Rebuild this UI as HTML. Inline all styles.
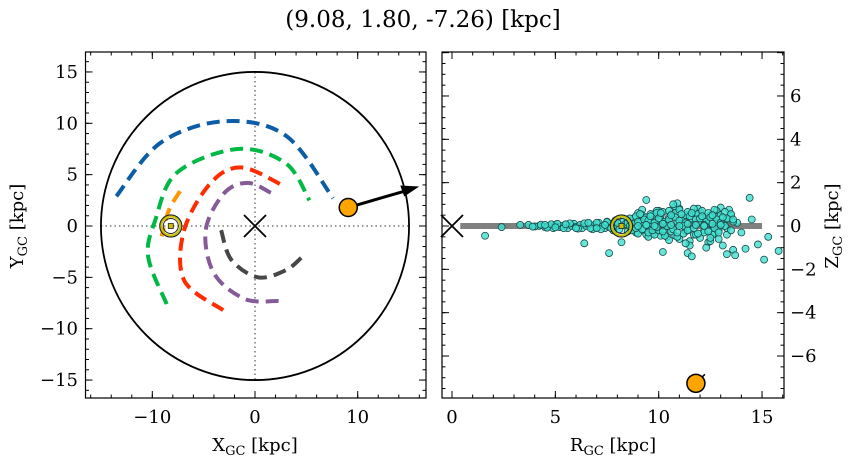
<!DOCTYPE html>
<html><head><meta charset="utf-8">
<style>
html,body{margin:0;padding:0;background:#fff;}
svg{display:block;font-family:"DejaVu Serif","Liberation Serif",serif;}
</style></head>
<body>
<svg id="fig" width="854" height="464" viewBox="0 0 854 464" xmlns="http://www.w3.org/2000/svg">
<text x="423" y="27" font-size="23" text-anchor="middle">(9.08, 1.80, -7.26) [kpc]</text>
<g id="left"></g>
<g id="right"></g>
</svg>
<script>
// ----- data -----
const armBlue = [[-13.5,2.9],[-9.2,8.1],[-3,10.2],[3,8.8],[7.6,2.7]];
const armGreen = [[-8.6,-7.6],[-10.4,-3],[-9.7,0.6],[-7.6,5.2],[-1.7,7.5],[3,6.1],[5.3,2.5]];
const armOrange = [[-7.3,3.4],[-8.4,1.5],[-9.1,-1]];
const armRed = [[-3.1,-8.2],[-6.9,-5.3],[-6.9,-0.4],[-4.3,4.2],[-1.3,5.7],[2.8,3.9]];
const armPurple = [[2.3,-7.3],[-1,-7.1],[-4,-4.6],[-4.8,-0.4],[-3,3.2],[-0.7,4.2],[1.6,3.2]];
const armGrey = [[-3.3,-0.4],[-2.3,-3.3],[0.3,-5],[3,-4.3],[4.6,-3]];
const targetXYZ = [9.08, 1.80, -7.26];
const targetR = 11.8;
const sunX = -8.2;
const diskRadius = 15;
const starR = [1.6,2.4,3.3,3.7,4.2,4.5,4.7,4.9,5.0,5.2,5.3,5.5,5.6,5.8,5.9,6.0,6.2,6.3,6.5,6.6,6.8,6.9,7.0,7.1,7.3,7.4,7.5,7.6,7.7,7.8,7.9,8.0,8.1,8.3,8.4,8.5,8.6,8.7,8.8,8.9,9.0,9.1,9.2,9.3,9.4,9.5,9.6,9.7,9.8,9.9,10.0,10.1,10.2,10.3,10.4,10.5,10.6,10.7,10.8,10.9,11.0,11.1,11.2,11.3,11.4,11.5,11.6,11.7,11.8,11.9,12.0,12.1,12.2,12.3,12.4,12.5,12.6,12.7,12.8,12.9,13.0,13.1,13.2,13.3,13.5,13.6,13.8,14.0,9.0,9.5,10.0,10.5,11.0,11.5,12.0,12.5,13.0,9.2,9.8,10.3,10.8,11.3,11.8,12.3,12.8,13.3,9.7,10.2,10.9,11.4,11.9,12.4,13.4,14.2,14.5,14.8,15.3,15.8,10.1,11.6,12.6,13.7,14.4,15.1,9.9,8.2,7.6,6.4,9.4,10.7,12.9,11.9,10.6];
const starZ = [-0.45,-0.05,0.05,0.05,0.0,-0.05,0.0,-0.1,0.05,-0.05,0.0,0.05,-0.1,0.0,0.1,-0.05,0.05,-0.1,0.0,0.1,-0.15,0.05,-0.05,0.15,0.0,-0.1,0.2,-0.05,0.1,-0.2,0.25,0.0,-0.15,0.3,0.1,-0.25,0.2,-0.05,0.35,-0.3,0.1,0.4,-0.2,0.2,-0.4,0.3,0.0,-0.35,0.45,-0.1,0.25,0.5,-0.3,0.1,-0.5,0.4,-0.15,0.55,-0.45,0.2,-0.6,0.35,0.05,-0.25,0.5,-0.7,0.3,-0.4,0.6,0.15,-0.55,0.45,-0.2,0.25,-0.75,0.5,0.0,-0.35,0.4,-0.6,0.2,-0.9,0.3,-0.4,0.5,-1.1,0.15,-0.3,0.6,-0.5,0.7,-0.65,0.8,-0.9,0.65,-0.7,0.85,0.75,0.55,-0.3,0.9,-0.8,0.6,-1.0,0.7,-1.3,0.5,-1.2,1.05,-1.25,0.8,-0.2,0.75,-1.05,0.3,-0.85,-0.5,-1.15,-0.45,-1.4,-0.4,-1.35,1.3,-1.55,0.7,-0.75,-1.25,-0.8,1.2,1.0,0.45,0.15,0.55,0.95,-0.85,-0.55,0.1];
const starR2 = [4.0,4.3,4.6,4.8,5.1,5.4,5.7,6.1,6.4,6.7,7.0,7.2,7.5,7.7,7.9,8.6,8.7,8.9,9.0,9.1,9.2,9.3,9.4,9.5,9.6,9.7,9.8,9.9,10.0,10.1,10.2,10.3,10.4,10.5,10.6,10.7,10.8,10.9,11.0,11.1,11.2,11.3,11.4,11.5,11.6,11.7,11.8,11.9,12.0,12.1,12.2,12.3,12.4,12.5,12.6,12.7,12.8,12.9,13.0,13.1,13.2,13.3,13.4,13.5,13.6,8.8,9.0,9.3,9.5,9.8,10.0,10.3,10.5,10.8,11.0,11.3,11.5,11.8,12.0,12.3,12.5,12.8,13.0,13.3,8.9,9.2,9.4,9.7,9.9,10.2,10.4,10.7,10.9,11.2,11.4,11.7,11.9,12.2,12.4,12.7,12.9,13.2,13.5,8.5,9.1,9.6,10.1,10.6,11.1,11.6,12.1,12.6,13.1,13.6,7.4,7.0,6.6,6.0,5.5,5.0,4.5,3.9,8.0,8.6,9.0,9.4,9.8,10.2,10.6,11.0,11.4,11.8,12.2,12.6,13.0];
const starZ2 = [-0.02,0.06,-0.08,0.08,0.1,-0.1,0.12,-0.12,0.12,-0.1,0.15,-0.15,0.18,-0.1,0.2,0.35,-0.2,0.45,-0.35,0.15,0.5,-0.15,0.4,-0.3,0.55,0.1,-0.4,0.6,-0.2,0.3,0.65,-0.45,0.2,0.7,-0.25,0.45,0.6,-0.5,0.75,0.1,-0.35,0.5,0.65,-0.15,0.35,0.8,-0.4,0.55,0.2,0.7,-0.3,0.4,0.6,-0.55,0.45,0.75,0.1,-0.2,0.5,0.35,0.65,-0.1,0.3,0.55,0.2,0.1,0.2,0.3,0.25,0.15,0.35,0.2,0.3,0.4,0.25,0.15,0.45,0.3,0.35,0.2,0.4,0.3,0.15,0.35,-0.1,-0.15,0.05,-0.2,-0.05,-0.25,0.0,-0.15,-0.3,0.0,-0.2,-0.1,-0.35,0.05,-0.25,-0.1,-0.3,0.0,-0.2,0.15,0.55,0.45,0.6,0.5,0.55,0.6,0.45,0.5,0.4,0.3,0.05,-0.1,0.15,-0.1,0.08,-0.06,0.05,-0.03,0.15,0.0,0.0,0.05,0.0,0.1,0.05,0.0,0.1,0.05,0.0,0.1,0.05];
const leftXTicks = [-10,0,10];
const leftYTicks = [-15,-10,-5,0,5,10,15];
const rightXTicks = [0,5,10,15];
const rightYTicks = [-6,-4,-2,0,2,4,6];

// ----- axes -----
const NS='http://www.w3.org/2000/svg';
const L={x0:85.5,x1:426,y0:52,y1:398};
const sxL=v=>255+v*10.27, syL=v=>226-v*10.27;
const R={x0:442,x1:784,y0:52,y1:398};
const sxR=v=>452+v*20.67, syR=v=>226-v*21.67;
function mk(parent,tag,attrs,text){const e=document.createElementNS(NS,tag);for(const k in attrs)e.setAttribute(k,attrs[k]);if(text!==undefined)e.textContent=text;parent.appendChild(e);return e;}
const gL=document.getElementById('left'), gR=document.getElementById('right');
function smooth(a){const p=a.map(q=>[sxL(q[0]),syL(q[1])]);let d='M'+p[0][0]+','+p[0][1];
 for(let i=0;i<p.length-1;i++){const p0=p[Math.max(i-1,0)],p1=p[i],p2=p[i+1],p3=p[Math.min(i+2,p.length-1)];
 d+=' C'+(p1[0]+(p2[0]-p0[0])/6)+','+(p1[1]+(p2[1]-p0[1])/6)+' '+(p2[0]-(p3[0]-p1[0])/6)+','+(p2[1]-(p3[1]-p1[1])/6)+' '+p2[0]+','+p2[1];}return d;}

// left panel
mk(gL,'line',{x1:sxL(0),y1:syL(15),x2:sxL(0),y2:syL(-15),stroke:'#777','stroke-width':1.5,'stroke-dasharray':'1.5 3'});
mk(gL,'line',{x1:sxL(-15),y1:syL(0),x2:sxL(15),y2:syL(0),stroke:'#777','stroke-width':1.5,'stroke-dasharray':'1.5 3'});
let c=mk(gL,'circle',{cx:sxL(0),cy:syL(0),r:diskRadius*10.27,fill:'none',stroke:'#000','stroke-width':1.8});

const arms=[[armBlue,'#0c5da5','arm-blue'],[armGreen,'#00b945','arm-green'],[armOrange,'#ff9500','arm-orange'],[armRed,'#ff2c00','arm-red'],[armPurple,'#845b97','arm-purple'],[armGrey,'#474747','arm-grey']];
arms.forEach(a=>{const p=mk(gL,'path',{d:smooth(a[0]),fill:'none',stroke:a[1],'stroke-width':4,'stroke-dasharray':'13 7'});
});
function cross(g,x,y,name){const e=mk(g,'path',{d:`M${x-11},${y-11}L${x+11},${y+11}M${x-11},${y+11}L${x+11},${y-11}`,stroke:'#000','stroke-width':1.8});}
function sun(g,x,y){const s=mk(g,'g',{});
 mk(s,'circle',{cx:x,cy:y,r:11,fill:'none',stroke:'#222','stroke-width':1.2});mk(s,'circle',{cx:x,cy:y,r:9.5,fill:'none',stroke:'#c8c000','stroke-width':2});
 mk(s,'circle',{cx:x,cy:y,r:7.5,fill:'none',stroke:'#222','stroke-width':1});mk(s,'rect',{x:x-2.5,y:y-2.5,width:5,height:5,fill:'#c8c000',stroke:'#222','stroke-width':0.8});}
cross(gL,sxL(0),syL(0),'galactic-center-cross');
sun(gL,sxL(sunX),syL(0));
const tx=sxL(targetXYZ[0]),ty=syL(targetXYZ[1]);
let ar=mk(gL,'g',{});
mk(ar,'line',{x1:tx,y1:ty,x2:tx+55,y2:ty-16,stroke:'#000','stroke-width':3});
mk(ar,'polygon',{points:`${tx+71},${ty-21} ${tx+52},${ty-22} ${tx+56},${ty-11}`,fill:'#000'});
let tg=mk(gL,'circle',{cx:tx,cy:ty,r:9,fill:'#ffa500',stroke:'#000','stroke-width':1.5});


// frames & ticks
function frame(g,B,name){const r=mk(g,'rect',{x:B.x0,y:B.y0,width:B.x1-B.x0,height:B.y1-B.y0,fill:'none',stroke:'#000','stroke-width':1.2});}
function ticksX(g,B,sx,lo,hi,step,len){for(let v=Math.ceil(lo/step)*step;v<=hi+1e-9;v+=step){const x=sx(v);if(x<B.x0+0.5||x>B.x1-0.5)continue;
 mk(g,'line',{x1:x,y1:B.y1,x2:x,y2:B.y1-len,stroke:'#000','stroke-width':1});mk(g,'line',{x1:x,y1:B.y0,x2:x,y2:B.y0+len,stroke:'#000','stroke-width':1});}}
function ticksY(g,B,sy,lo,hi,step,len){for(let v=Math.ceil(lo/step)*step;v<=hi+1e-9;v+=step){const y=sy(v);if(y<B.y0+0.5||y>B.y1-0.5)continue;
 mk(g,'line',{x1:B.x0,y1:y,x2:B.x0+len,y2:y,stroke:'#000','stroke-width':1});mk(g,'line',{x1:B.x1,y1:y,x2:B.x1-len,y2:y,stroke:'#000','stroke-width':1});}}
ticksX(gL,L,sxL,-18,18,10,7);ticksX(gL,L,sxL,-18,18,2,3.5);
ticksY(gL,L,syL,-18,18,5,7);ticksY(gL,L,syL,-18,18,1,3.5);
frame(gL,L,'xy-plot-frame');
leftXTicks.forEach(v=>{const t=mk(gL,'text',{x:sxL(v),y:423,'font-size':18,'text-anchor':'middle'},v<0?'\u2212'+(-v):String(v));});
leftYTicks.forEach(v=>{const t=mk(gL,'text',{x:78,y:syL(v)+6,'font-size':18,'text-anchor':'end'},v<0?'\u2212'+(-v):String(v));});
let xt=mk(gL,'text',{x:255,y:451,'font-size':18,'text-anchor':'middle'});xt.innerHTML='X<tspan font-size="13" dy="4">GC</tspan><tspan dy="-4"> [kpc]</tspan>';

let yt=mk(gL,'text',{x:0,y:0,'font-size':18,'text-anchor':'middle',transform:'translate(23,226) rotate(-90)'});yt.innerHTML='Y<tspan font-size="13" dy="4">GC</tspan><tspan dy="-4"> [kpc]</tspan>';


// right panel
let band=mk(gR,'line',{x1:sxR(0.4),y1:syR(0),x2:sxR(15),y2:syR(0),stroke:'#808080','stroke-width':6});

const sg=mk(gR,'g',{});
function star(r,z){const x=sxR(r),y=syR(z);if(x>R.x1+4)return;
 const d=mk(sg,'circle',{cx:x,cy:y,r:3.5,fill:'#40e0d0','fill-opacity':0.8,stroke:'#1a4a4a','stroke-width':0.8});
 }
for(let i=0;i<starR.length;i++)star(starR[i],starZ[i]);
for(let i=0;i<starR2.length;i++)star(starR2[i],starZ2[i]);
cross(gR,sxR(0),syR(0),'galactic-center-cross-rz');
sun(gR,sxR(-sunX),syR(0));
const rx=sxR(targetR),ry=syR(targetXYZ[2]);
mk(gR,'line',{x1:rx,y1:ry,x2:rx+9,y2:ry-9,stroke:'#000','stroke-width':1.5});
let tg2=mk(gR,'circle',{cx:rx,cy:ry,r:9,fill:'#ffa500',stroke:'#000','stroke-width':1.5});

ticksX(gR,R,sxR,0,16,5,7);ticksX(gR,R,sxR,0,16,1,3.5);
ticksY(gR,R,syR,-8,8,2,7);ticksY(gR,R,syR,-8,8,0.5,3.5);
frame(gR,R,'rz-plot-frame');
rightXTicks.forEach(v=>{const t=mk(gR,'text',{x:sxR(v),y:423,'font-size':18,'text-anchor':'middle'},String(v));});
rightYTicks.forEach(v=>{const t=mk(gR,'text',{x:790,y:syR(v)+6,'font-size':18,'text-anchor':'start'},v<0?'\u2212'+(-v):String(v));});
let rt=mk(gR,'text',{x:613,y:451,'font-size':18,'text-anchor':'middle'});rt.innerHTML='R<tspan font-size="13" dy="4">GC</tspan><tspan dy="-4"> [kpc]</tspan>';

let zt=mk(gR,'text',{x:0,y:0,'font-size':18,'text-anchor':'middle',transform:'translate(838,226) rotate(-90)'});zt.innerHTML='Z<tspan font-size="13" dy="4">GC</tspan><tspan dy="-4"> [kpc]</tspan>';

</script>
</body></html>
